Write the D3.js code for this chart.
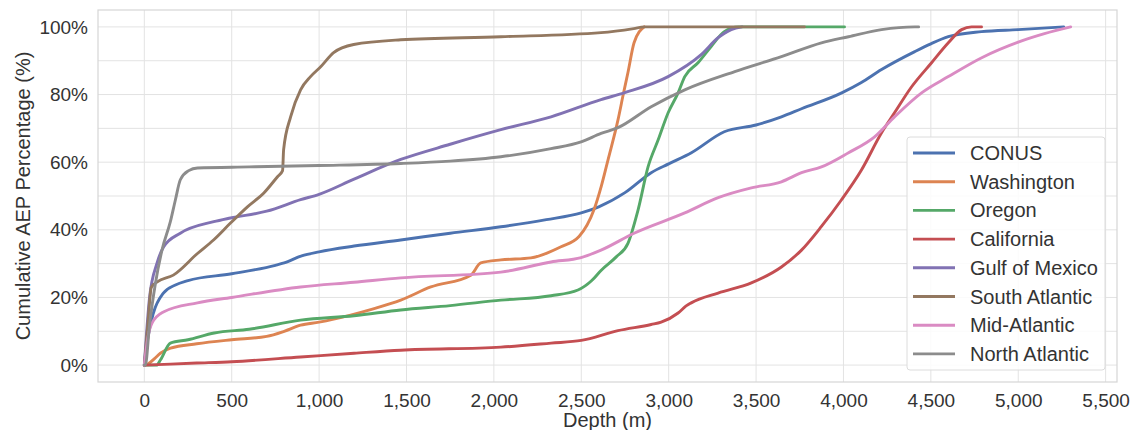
<!doctype html>
<html>
  <head>
    <meta charset="utf-8">
    <title>Cumulative AEP by depth</title>
    <script src="https://cdnjs.cloudflare.com/ajax/libs/d3/7.8.5/d3.min.js"></script>
    <style>
      body { margin: 0; background: #fff; }
      text { font-family: "Liberation Sans", Arial, sans-serif; fill: #333; }
    </style>
  </head>
  <body>
    <div id="chart"></div>
    <script>
      // data: [depth (m), cumulative AEP (%)]
      const conus = [[0,0],[20,8],[52,15.4],[109,21.3],[178,23.7],[250,25],[500,27],[750,29.5],[800,30.2],[900,32.3],[1000,33.5],[1200,35.2],[1467,37],[1750,39],[2040,40.9],[2300,43],[2500,45],[2600,46.8],[2750,51],[2900,56.9],[3000,59.5],[3130,62.8],[3318,69],[3500,71],[3645,73.4],[3760,75.8],[3990,80.5],[4100,83.5],[4218,87.4],[4408,92.7],[4500,95],[4600,97.1],[4790,98.6],[5000,99.2],[5260,100]];
      const washington = [[0,0],[20,0.3],[60,2],[92,3.5],[150,5],[300,6.3],[500,7.5],[700,8.5],[800,10],[894,11.8],[1000,12.7],[1180,14.8],[1300,16.5],[1467,19.2],[1639,23.1],[1868,26.6],[1925,30.2],[2040,31.1],[2212,31.7],[2384,35],[2487,38],[2573,46],[2615,53],[2653,60.7],[2710,72.5],[2740,80],[2767,86.5],[2802,95.3],[2860,100]];
      const oregon = [[0,0],[70,0],[92,1.5],[149,6.5],[250,7.5],[400,9.5],[600,10.6],[894,13.3],[1200,14.6],[1467,16.3],[1750,17.6],[2040,19.2],[2327,20.5],[2481,22.2],[2560,25],[2613,28],[2700,32],[2767,36],[2825,45.9],[2882,58.6],[2940,66.6],[2997,74.6],[3054,80.5],[3092,85.3],[3168,89.4],[3243,94.2],[3318,98.6],[3400,100],[4006,100]];
      const california = [[0,0],[300,0.6],[500,1],[894,2.4],[1200,3.5],[1467,4.4],[2040,5.3],[2327,6.5],[2500,7.3],[2710,10.2],[2900,12],[2957,12.7],[3054,15.4],[3100,17.5],[3129,18.4],[3283,21.3],[3473,24.3],[3645,29],[3760,34],[3874,41],[3989,48.9],[4103,57.7],[4218,68.7],[4292,74.6],[4390,82.3],[4504,89.4],[4600,95.3],[4676,99.2],[4733,100],[4790,100]];
      const gulf = [[0,0],[30,20],[73,30.2],[111,35],[206,39],[397,42.4],[493,43.5],[700,45.5],[894,48.9],[1000,50.5],[1200,55],[1467,60.8],[1750,65.3],[2040,69.6],[2327,73.4],[2613,78.5],[2745,80.5],[2997,85.3],[3186,91.8],[3283,96.8],[3358,99.2],[3420,100]];
      const southAtlantic = [[0,0],[20,12],[40,23],[74,24.6],[166,26.6],[304,33],[396,37],[493,42],[590,46.8],[684,50.9],[762,55.7],[791,57.5],[797,63.7],[837,73.4],[894,81.4],[951,85.3],[1009,88.2],[1083,92.4],[1198,94.8],[1467,96.2],[2040,97.1],[2613,98.3],[2800,99.5],[2860,100],[3777,100]];
      const midAtlantic = [[0,0],[20,8],[44,12.4],[109,15.7],[304,18.4],[500,20],[894,23.1],[1200,24.5],[1467,25.8],[2040,27.5],[2327,30.5],[2499,31.8],[2613,34],[2802,39],[3092,45],[3283,49.5],[3473,52.4],[3645,54.2],[3760,56.9],[3874,58.6],[4029,62.8],[4178,67.5],[4292,73.4],[4447,80.5],[4600,85.3],[4791,90.9],[5000,95.5],[5150,98],[5300,100]];
      const northAtlantic = [[0,0],[6,0],[30,12],[63,24],[101,34],[149,42.4],[178,48.9],[206,54.8],[254,57.5],[304,58.3],[600,58.6],[1000,59],[1467,59.6],[1750,60.3],[2040,61.6],[2327,64],[2499,66],[2613,68.5],[2710,70.2],[2900,76.4],[3092,81.4],[3378,86.8],[3645,91.2],[3874,95.3],[4029,97.1],[4218,99.2],[4408,100],[4430,100]];

      const names = ["CONUS", "Washington", "Oregon", "California", "Gulf of Mexico", "South Atlantic", "Mid-Atlantic", "North Atlantic"];
      const series = [conus, washington, oregon, california, gulf, southAtlantic, midAtlantic, northAtlantic];
      const colors = ["#4c72b0", "#dd8452", "#55a868", "#c44e52", "#8172b3", "#937860", "#da8bc3", "#8c8c8c"];
      const xTicks = [0, 500, 1000, 1500, 2000, 2500, 3000, 3500, 4000, 4500, 5000, 5500];
      const yTicks = [0, 20, 40, 60, 80, 100];
      const yGrid = [0, 10, 20, 30, 40, 50, 60, 70, 80, 90, 100];

      const W = 1130, H = 430;
      const plotL = 98, plotR = 1117, plotT = 10, plotB = 382;

      const x = d3.scaleLinear().domain([-265, 5565]).range([plotL, plotR]);
      const y = d3.scaleLinear().domain([-5, 105]).range([plotB, plotT]);

      const svg = d3.select('#chart').append('svg')
        .attr('width', W).attr('height', H);

      // grid
      svg.append('g').selectAll('line').data(xTicks).join('line')
        .attr('x1', d => x(d)).attr('x2', d => x(d))
        .attr('y1', plotT).attr('y2', plotB)
        .attr('stroke', '#e3e3e3').attr('stroke-width', 1);
      svg.append('g').selectAll('line').data(yGrid).join('line')
        .attr('x1', plotL).attr('x2', plotR)
        .attr('y1', d => y(d)).attr('y2', d => y(d))
        .attr('stroke', '#e3e3e3').attr('stroke-width', 1);

      // frame
      svg.append('rect')
        .attr('x', plotL).attr('y', plotT)
        .attr('width', plotR - plotL).attr('height', plotB - plotT)
        .attr('fill', 'none').attr('stroke', '#d6d6d6').attr('stroke-width', 1.2);

      // axes
      const xAxis = svg.append('g')
        .attr('transform', `translate(0,${plotB})`)
        .call(d3.axisBottom(x).tickValues(xTicks).tickFormat(d3.format(',')).tickSize(0).tickPadding(11.5));
      const yAxis = svg.append('g')
        .attr('transform', `translate(${plotL},0)`)
        .call(d3.axisLeft(y).tickValues(yTicks).tickFormat(d => d + '%').tickSize(0).tickPadding(10));
      [xAxis, yAxis].forEach(a => {
        a.select('.domain').remove();
        a.selectAll('text').style('font-size', '19px').attr('fill', '#333')
          .style('font-family', '"Liberation Sans", Arial, sans-serif');
      });

      // lines
      const line = d3.line().x(d => x(d[0])).y(d => y(d[1])).curve(d3.curveMonotoneX);
      svg.append('g').selectAll('path').data(series).join('path')
        .attr('d', line)
        .attr('fill', 'none')
        .attr('stroke', (d, i) => colors[i])
        .attr('stroke-width', 2.9)
        .attr('stroke-linejoin', 'round')
        .attr('stroke-linecap', 'round');

      // axis labels
      svg.append('text')
        .attr('x', (plotL + plotR) / 2).attr('y', 427)
        .attr('text-anchor', 'middle').style('font-size', '20px')
        .text('Depth (m)');
      svg.append('text')
        .attr('transform', `translate(30,${(plotT + plotB) / 2}) rotate(-90)`)
        .attr('text-anchor', 'middle').style('font-size', '20px')
        .text('Cumulative AEP Percentage (%)');

      // legend
      const lg = svg.append('g');
      lg.append('rect')
        .attr('x', 907).attr('y', 137).attr('width', 198).attr('height', 233)
        .attr('rx', 3).attr('fill', '#fff').attr('fill-opacity', 0.85)
        .attr('stroke', '#dcdcdc');
      const items = lg.selectAll('g.item').data(names).join('g')
        .attr('transform', (d, i) => `translate(0,${153 + i * 28.7})`);
      items.append('line')
        .attr('x1', 913).attr('x2', 955)
        .attr('stroke', (d, i) => colors[i]).attr('stroke-width', 2.9);
      items.append('text')
        .attr('x', 970).attr('dy', '0.35em')
        .style('font-size', '20px')
        .text(d => d);
    </script>
  </body>
</html>
